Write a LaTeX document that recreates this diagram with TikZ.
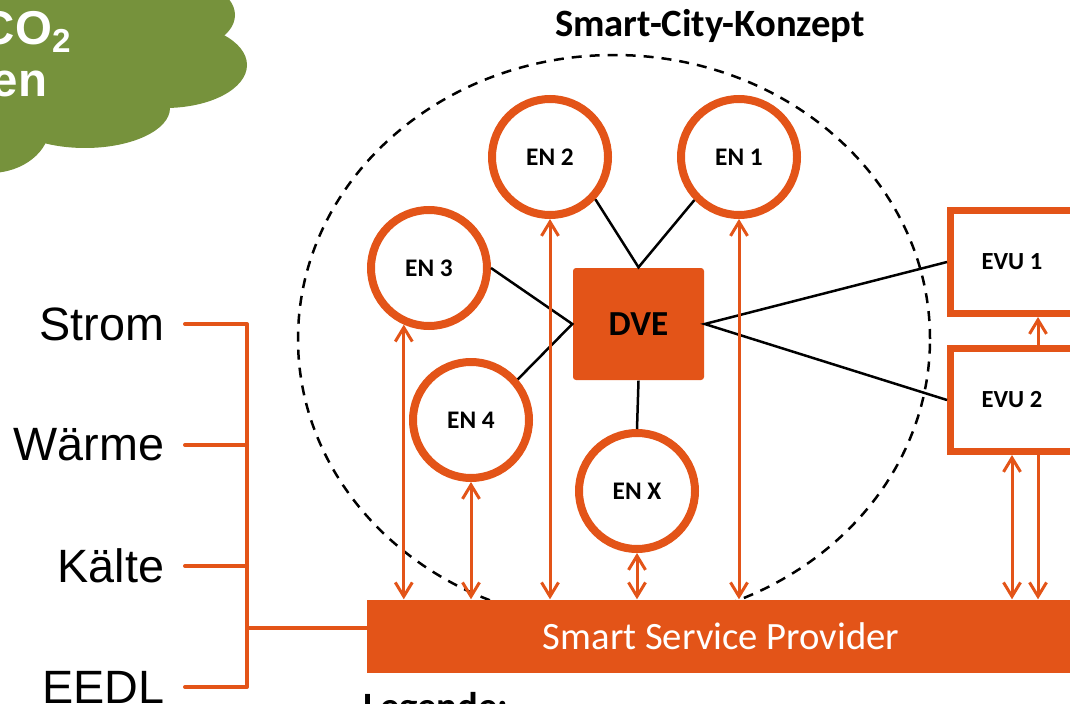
\documentclass[tikz,border=0pt]{standalone}
\usepackage{fontspec}
\setmainfont{Carlito}
\newfontfamily\arial{Liberation Sans}
\usetikzlibrary{arrows.meta}
\definecolor{dveorange}{RGB}{227,84,24}
\definecolor{cloudgreen}{RGB}{118,146,60}
\tikzset{
  ring/.style={circle, draw=dveorange, line width=0.8mm, fill=white, minimum size=11.6mm, inner sep=0pt, font=\fontsize{7.2}{8}\selectfont\bfseries},
  evubox/.style={rectangle, draw=dveorange, line width=0.7mm, fill=white, minimum width=12.3mm, minimum height=10.3mm, font=\fontsize{7}{8}\selectfont\bfseries},
  link/.style={black, line width=0.25mm},
  flow/.style={dveorange, line width=0.3mm},
  bus/.style={dveorange, line width=0.4mm, line cap=round, line join=round},
  medium/.style={font=\arial\fontsize{13.3}{15}\selectfont, anchor=east, inner sep=0pt},
}
\begin{document}
\begin{tikzpicture}[x=0.1mm, y=-0.1mm, >={Straight Barb[length=1.4mm,width=1.7mm]}]
\useasboundingbox (0,0) rectangle (1070,704);
\clip (0,0) rectangle (1070,704);
% cloud
\fill[cloudgreen] (160,15) ellipse [x radius=7.5mm, y radius=4mm];
\fill[cloudgreen] (165,65) ellipse [x radius=8.2mm, y radius=4.3mm];
\fill[cloudgreen] (85,108) ellipse [x radius=8.5mm, y radius=4mm];
\fill[cloudgreen] (-10,125) ellipse [x radius=6mm, y radius=4.8mm];
\fill[cloudgreen] (-10,-10) rectangle (160,100);
\node[font=\arial\bfseries\fontsize{13.5}{15}\selectfont, text=white, anchor=base east, inner sep=0pt] (co2) at (73,45) {CO\textsubscript{2}};
\node[font=\arial\bfseries\fontsize{13.5}{15}\selectfont, text=white, anchor=base east, inner sep=0pt] (cloudtxt) at (48,97) {en};

% smart city
\node[font=\fontsize{11}{13}\selectfont\bfseries, anchor=base] (title) at (710,37) {Smart-City-Konzept};
\draw[dash pattern=on 1mm off 0.8mm, line width=0.25mm] (614,339) ellipse [x radius=31.6mm, y radius=28.4mm];

\node[ring] (en1) at (739,157) {EN 1};
\node[ring] (en2) at (550,157) {EN 2};
\node[ring] (en3) at (429,268) {EN 3};
\node[ring] (en4) at (471,420) {EN 4};
\node[ring] (enx) at (637,491) {EN X};
\node[fill=dveorange, rounded corners=0.3mm, minimum width=13.1mm, minimum height=11.2mm, font=\fontsize{10}{12}\selectfont\bfseries] (dve) at (638.5,324) {DVE};
\node[evubox] (evu1) at (1012,262) {EVU 1};
\node[evubox] (evu2) at (1012,400) {EVU 2};
\node[fill=dveorange, text=white, minimum width=70.8mm, minimum height=7.3mm, inner sep=0pt, font=\fontsize{11}{13}\selectfont] (ssp) at (721,636.5) {Smart Service Provider};

\draw[link] (en2.-43) -- (dve.north) -- (en1.-136);
\draw[link] (en3.east) -- (dve.west) -- (en4.41);
\draw[link] (dve.south) -- (enx.north);
\draw[link] (evu1.west) -- (dve.east) -- (evu2.west);

\foreach \n in {en4,en2,enx,en1}
  \draw[flow,<->] (\n.south) -- (\n.south |- ssp.north);
\draw[flow,<->] (en3.-114) -- (en3.-114 |- ssp.north);
\draw[flow,->] ([xshift=2.6mm]evu2.north) -- ([xshift=2.6mm]evu1.south);
\draw[flow,<->] (evu2.south) -- (evu2.south |- ssp.north);
\draw[flow,->] ([xshift=2.6mm]evu2.south) -- ([xshift=2.6mm]evu2.south |- ssp.north);

% left bus
\node[medium] (strom) at (165,324) {Strom};
\node[medium] (waerme) at (165,445) {Wärme};
\node[medium] (kaelte) at (165,566) {Kälte};
\node[medium] (eedl) at (165,687) {EEDL};
\coordinate (b1) at (247,324);
\coordinate (b2) at (247,445);
\coordinate (b3) at (247,566);
\coordinate (b4) at (247,687);
\coordinate (b5) at (247,628);
\draw[bus] ([xshift=2mm]strom.east) -- (b1) -- (b4) -- ([xshift=2mm]eedl.east);
\draw[bus] ([xshift=2mm]waerme.east) -- (b2);
\draw[bus] ([xshift=2mm]kaelte.east) -- (b3);
\draw[bus] (b5) -- (b5 -| ssp.west);

\node[font=\fontsize{11}{13}\selectfont\bfseries, anchor=base west, inner sep=0pt] (legend) at (363,719) {Legende:};
\end{tikzpicture}
\end{document}
